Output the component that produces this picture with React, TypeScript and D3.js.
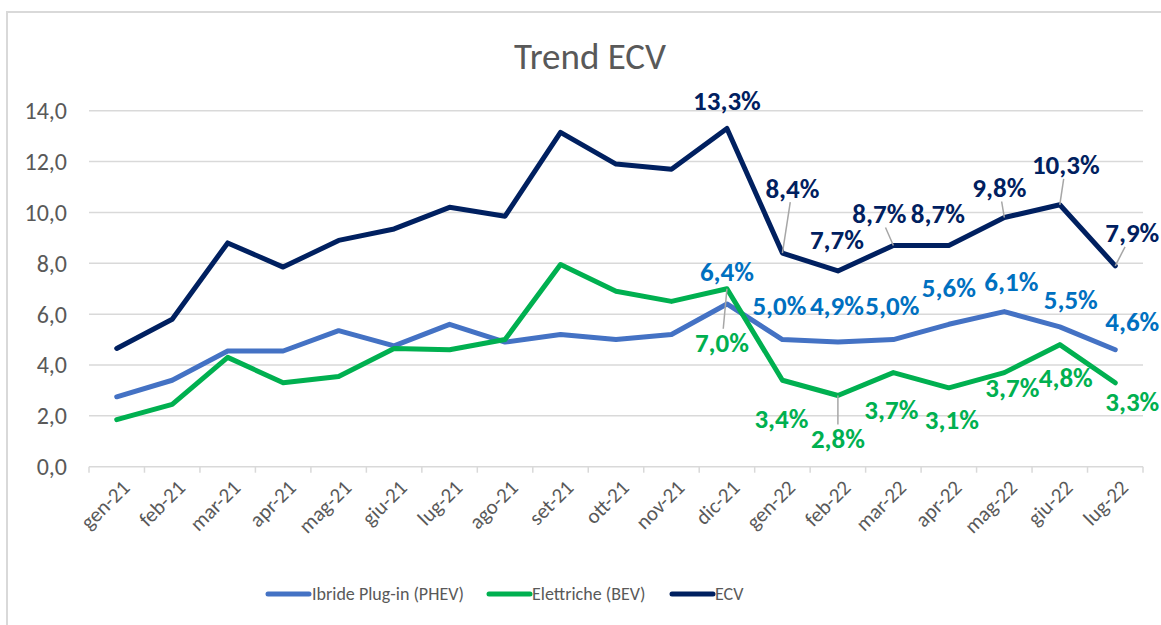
import React from "react";
import * as d3 from "d3";

const categories = [
  "gen-21", "feb-21", "mar-21", "apr-21", "mag-21", "giu-21", "lug-21", "ago-21", "set-21",
  "ott-21", "nov-21", "dic-21", "gen-22", "feb-22", "mar-22", "apr-22", "mag-22", "giu-22", "lug-22",
];

const phevValues = [2.75, 3.4, 4.55, 4.55, 5.35, 4.75, 5.6, 4.9, 5.2, 5.0, 5.2, 6.4, 5.0, 4.9, 5.0, 5.6, 6.1, 5.5, 4.6];
const bevValues = [1.85, 2.45, 4.3, 3.3, 3.55, 4.65, 4.6, 5.0, 7.95, 6.9, 6.5, 7.0, 3.4, 2.8, 3.7, 3.1, 3.7, 4.8, 3.3];
const ecvValues = [4.65, 5.8, 8.8, 7.85, 8.9, 9.35, 10.2, 9.85, 13.15, 11.9, 11.7, 13.3, 8.4, 7.7, 8.7, 8.7, 9.8, 10.3, 7.9];

const yTicks = [0, 2, 4, 6, 8, 10, 12, 14];

const seriesNames = ["Ibride Plug-in (PHEV)", "Elettriche (BEV)", "ECV"];

// data label placement (offset from point in px) — only labelled months
const ecvLabelOffsets: ([number, number, boolean] | null)[] = [
  null, null, null, null, null, null, null, null, null, null, null,
  [0, -28, false], [10, -65, true], [-1, -31, false], [-14, -32, true], [-11, -32, false],
  [-5, -30, true], [6, -40, true], [17, -33, true],
];
const phevLabelOffsets: ([number, number, boolean] | null)[] = [
  null, null, null, null, null, null, null, null, null, null, null,
  [0, -32, false], [-3, -34, false], [-1, -37, false], [-1, -34, false], [0, -37, false],
  [7, -30, false], [11, -27, false], [17, -28, false],
];
const bevLabelOffsets: ([number, number, boolean] | null)[] = [
  null, null, null, null, null, null, null, null, null, null, null,
  [-5, 54, true], [-1, 38, false], [0, 43, true], [-2, 37, false], [3, 32, false],
  [8, 15, false], [6, 33, false], [17, 19, false],
];

const FONT = "Carlito, 'Open Sans', 'Noto Sans', sans-serif";

const fmt = (v: number) => v.toFixed(1).replace(".", ",");

export default function App() {
  const W = 1161;
  const H = 625;
  const x = d3.scaleBand<string>().domain(categories).range([89, 1143]).padding(0);
  const y = d3.scaleLinear().domain([0, 14]).range([466.7, 110.7]);
  const cx = (c: string) => (x(c) as number) + x.bandwidth() / 2;

  const line = d3
    .line<number>()
    .x((_, i) => cx(categories[i]))
    .y((d) => y(d));

  const series = [
    { name: seriesNames[0], values: phevValues, color: "#4472C4", labelColor: "#0070C0", offsets: phevLabelOffsets },
    { name: seriesNames[1], values: bevValues, color: "#00B050", labelColor: "#00B050", offsets: bevLabelOffsets },
    { name: seriesNames[2], values: ecvValues, color: "#002060", labelColor: "#002060", offsets: ecvLabelOffsets },
  ];

  const boundaries = d3.range(categories.length + 1).map((i) => 89 + i * x.bandwidth());

  const legendItems = [
    { x1: 268, tx: 312 },
    { x1: 489, tx: 532 },
    { x1: 672, tx: 715 },
  ];

  return (
    <svg width={W} height={H} style={{ position: "absolute", left: 0, top: 0, background: "#fff" }} fontFamily={FONT}>
      <rect x={0} y={0} width={W} height={H} fill="#fff" />
      {/* chart border */}
      <path d={`M7,${H} L7,12 L${W},12`} fill="none" stroke="#D9D9D9" strokeWidth={2} />
      {/* title */}
      <text x={590} y={69} textAnchor="middle" fontSize={37} fill="#595959">Trend ECV</text>
      {/* gridlines */}
      {yTicks.map((t) => (
        <g key={t}>
          <line x1={89} x2={1143} y1={y(t)} y2={y(t)} stroke="#D9D9D9" strokeWidth={1.5} />
          <text x={67} y={y(t)} dy="0.35em" textAnchor="end" fontSize={24} fill="#595959">{fmt(t)}</text>
        </g>
      ))}
      {/* x ticks */}
      {boundaries.map((b, i) => (
        <line key={i} x1={b} x2={b} y1={y(0)} y2={y(0) + 6} stroke="#D9D9D9" strokeWidth={1.5} />
      ))}
      {categories.map((c) => (
        <text
          key={c}
          transform={`translate(${cx(c) + 9},${y(0) + 17}) rotate(-45)`}
          textAnchor="end"
          dy="0.35em"
          fontSize={21}
          fill="#595959"
        >
          {c}
        </text>
      ))}
      {/* lines */}
      {series.map((s) => (
        <path key={s.name} d={line(s.values) || ""} fill="none" stroke={s.color} strokeWidth={5} strokeLinejoin="round" strokeLinecap="round" />
      ))}
      {/* leader lines and labels */}
      {series.map((s) =>
        s.values.map((v, i) => {
          const o = s.offsets[i];
          if (!o) return null;
          const px = cx(categories[i]);
          const py = y(v);
          const lx = px + o[0];
          const ly = py + o[1];
          let leader = null;
          if (o[2]) {
            const dx = px - lx;
            const dy = py - ly;
            const t = Math.min(Math.abs(dx) > 0 ? 32 / Math.abs(dx) : 99, Math.abs(dy) > 0 ? 14 / Math.abs(dy) : 99);
            leader = <line x1={px} y1={py} x2={lx + dx * t} y2={ly + dy * t} stroke="#A6A6A6" strokeWidth={1.5} />;
          }
          return (
            <g key={s.name + i}>
              {leader}
              <text x={lx} y={ly} dy="0.35em" textAnchor="middle" fontSize={27} fontWeight="bold" fill={s.labelColor}>
                {fmt(v) + "%"}
              </text>
            </g>
          );
        })
      )}
      {/* legend */}
      {series.map((s, i) => (
        <g key={"lg" + i}>
          <line x1={legendItems[i].x1} x2={legendItems[i].x1 + 41} y1={594} y2={594} stroke={s.color} strokeWidth={5} strokeLinecap="round" />
          <text x={legendItems[i].tx} y={594} dy="0.35em" fontSize={18} fill="#595959">{s.name}</text>
        </g>
      ))}
    </svg>
  );
}
